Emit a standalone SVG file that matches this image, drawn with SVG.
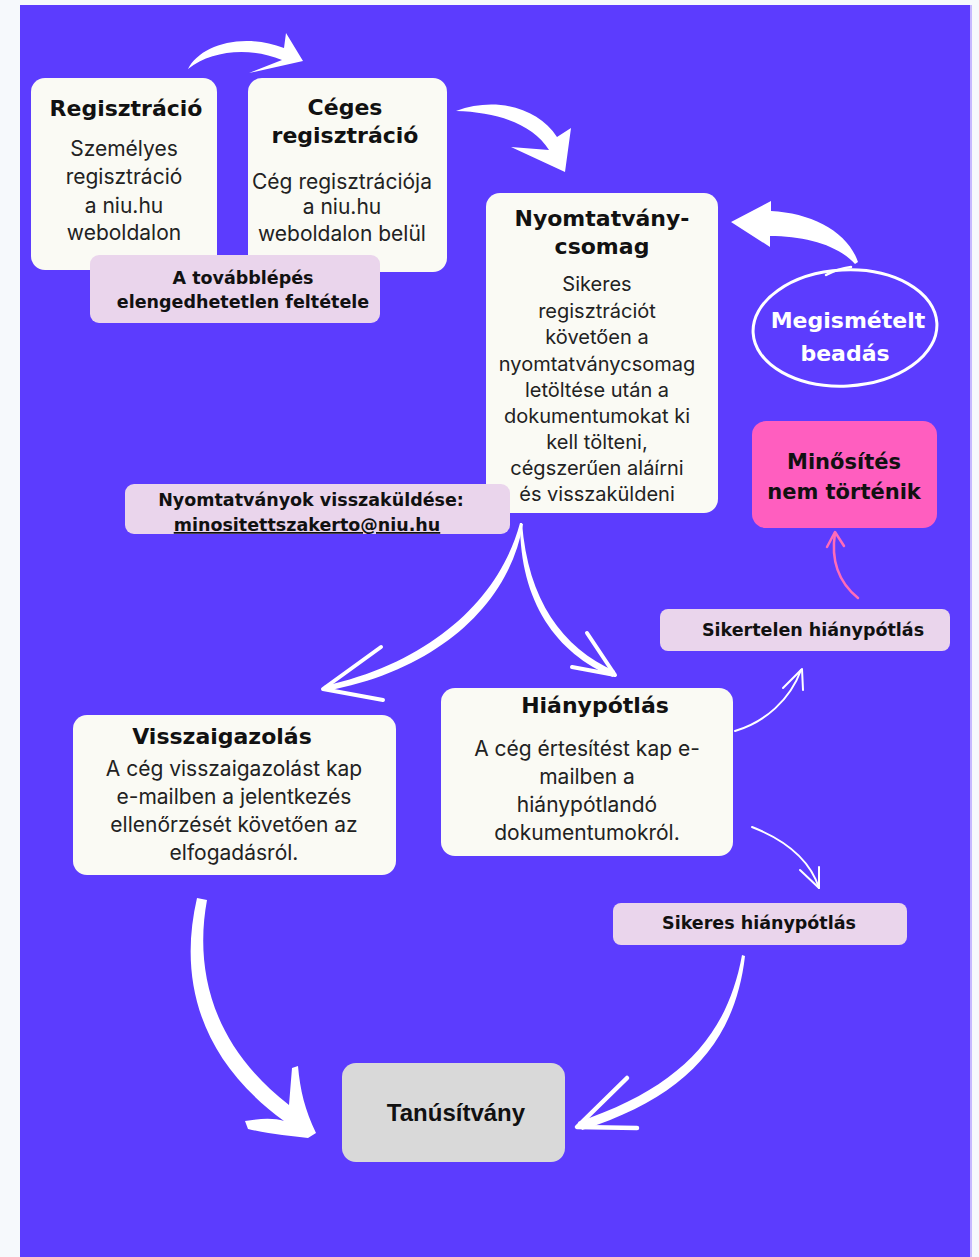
<svg xmlns="http://www.w3.org/2000/svg" width="979" height="1257" viewBox="0 0 979 1257">
<style>
.box{fill:#fafaf4}
.lbl{fill:#ead5ec}
.t{font-family:"DejaVu Sans",sans-serif;font-weight:bold;font-size:22px;fill:#111;text-anchor:middle}
.b{font-family:Inter,"Open Sans",sans-serif;font-size:21px;fill:#222;text-anchor:middle}
.l{font-family:"DejaVu Sans",sans-serif;font-weight:bold;font-size:17.5px;fill:#111;text-anchor:middle}
.wfill{fill:#fff}
.wline{fill:none;stroke:#fff;stroke-linecap:round;stroke-linejoin:round}
</style>
<rect x="0" y="0" width="979" height="1257" fill="#f6f9fc"/>
<rect x="20" y="5" width="952" height="1252" fill="#c6b8ff"/>
<rect x="20" y="5" width="950" height="1252" fill="#5c3cfe"/>

<g id="connectors">
  <path class="wfill" d="M188,69 C200,45 242,32 284,48 L286,33 L303,61 L249,73 L282,60 C250,47 212,50 188,69 Z"/>
  <path class="wfill" d="M456,111 C496,96 538,108 557,137 L571,128 L565,172 L511,147 L549,150 C533,124 497,112 456,111 Z"/>
  <path class="wfill" d="M858,262 C848,232 812,213 771,211 L771,201 L731,222 L770,247 L770,236 C805,236 838,245 855,264 Z"/>
  <path class="wfill" d="M520,523 L523,524 C510,602 440,670 326,691 L324,686 C432,662 500,598 520,523 Z"/>
  <polyline class="wline" stroke-width="4" points="381,647 323,689 383,700"/>
  <path class="wfill" d="M520,523 L522,523 C528,600 562,648 615,671 L613,677 C556,653 520,602 520,523 Z"/>
  <polyline class="wline" stroke-width="4" points="587,633 615,675 572,667"/>
  <path class="wline" stroke-width="2" d="M735,731 C765,722 790,700 801,670"/>
  <polyline class="wline" stroke-width="2" points="783,688 802,669 803,690"/>
  <path class="wline" stroke-width="2" d="M752,827 C785,840 810,860 819,888"/>
  <polyline class="wline" stroke-width="2" points="800,870 819,888 819,867"/>
  <path fill="none" stroke="#ff6cb8" stroke-width="2.5" stroke-linecap="round" d="M858,598 C842,585 830,565 835,533"/>
  <polyline fill="none" stroke="#ff6cb8" stroke-width="2.5" stroke-linecap="round" stroke-linejoin="round" points="827,547 835,532 844,546"/>
  <path class="wfill" d="M197,898 L207,900 C196,960 205,1040 289,1105 L292,1068 L298,1066 C300,1090 305,1110 316,1133 L308,1138 C290,1136 270,1134 248,1129 L245,1121 C262,1118 275,1118 284,1121 C200,1060 178,980 197,898 Z"/>
  <path class="wfill" d="M742,955 L745,956 C735,1042 686,1097 582,1130 L578,1122 C678,1088 727,1038 742,955 Z"/>
  <polyline class="wline" stroke-width="4.5" points="627,1078 577,1127 637,1128"/>
</g>

<g id="regisztracio">
  <rect class="box" x="31" y="78" width="186" height="192" rx="14"/>
  <text class="t" x="126" y="116">Regisztráció</text>
  <text class="b" x="124" y="156">Személyes</text>
  <text class="b" x="124" y="184">regisztráció</text>
  <text class="b" x="124" y="213">a niu.hu</text>
  <text class="b" x="124" y="240">weboldalon</text>
</g>

<g id="ceges">
  <rect class="box" x="248" y="78" width="199" height="194" rx="14"/>
  <text class="t" x="345" y="115">Céges</text>
  <text class="t" x="345" y="143">regisztráció</text>
  <text class="b" x="342" y="189">Cég regisztrációja</text>
  <text class="b" x="342" y="214">a niu.hu</text>
  <text class="b" x="342" y="241">weboldalon belül</text>
</g>

<g id="feltetel">
  <rect class="lbl" x="90" y="255" width="290" height="68" rx="9"/>
  <text class="l" x="243" y="284">A továbblépés</text>
  <text class="l" x="243" y="308">elengedhetetlen feltétele</text>
</g>

<g id="nyomtatvanycsomag">
  <rect class="box" x="486" y="193" width="232" height="320" rx="14"/>
  <text class="t" x="602" y="226">Nyomtatvány-</text>
  <text class="t" x="602" y="254">csomag</text>
  <g class="b" style="font-size:20px">
    <text x="597" y="291">Sikeres</text>
    <text x="597" y="318">regisztrációt</text>
    <text x="597" y="344">követően a</text>
    <text x="597" y="371">nyomtatványcsomag</text>
    <text x="597" y="397">letöltése után a</text>
    <text x="597" y="423">dokumentumokat ki</text>
    <text x="597" y="449">kell tölteni,</text>
    <text x="597" y="475">cégszerűen aláírni</text>
    <text x="597" y="501">és visszaküldeni</text>
  </g>
</g>

<g id="visszakuldes">
  <rect class="lbl" x="125" y="484" width="385" height="50" rx="9"/>
  <text class="l" x="311" y="506">Nyomtatványok visszaküldése:</text>
  <text class="l" x="307" y="531" text-decoration="underline">minositettszakerto@niu.hu</text>
</g>

<g id="megismetelt">
  <ellipse cx="845" cy="328" rx="92" ry="58" fill="none" stroke="#fff" stroke-width="3" transform="rotate(-3 845 328)"/>
  <path d="M826,275 C835,270 843,268 851,267" fill="none" stroke="#fff" stroke-width="2.5" stroke-linecap="round"/>
  <text class="t" x="848" y="328" style="fill:#fff">Megismételt</text>
  <text class="t" x="845" y="361" style="fill:#fff">beadás</text>
</g>

<g id="minosites">
  <rect x="752" y="421" width="185" height="107" rx="14" fill="#ff5ebf"/>
  <text class="t" x="844" y="469" style="font-size:21px">Minősítés</text>
  <text class="t" x="844" y="499" style="font-size:21px">nem történik</text>
</g>

<g id="sikertelen">
  <rect class="lbl" x="660" y="609" width="290" height="42" rx="8"/>
  <text class="l" x="813" y="636">Sikertelen hiánypótlás</text>
</g>

<g id="hianypotlas">
  <rect class="box" x="441" y="688" width="292" height="168" rx="14"/>
  <text class="t" x="595" y="713">Hiánypótlás</text>
  <text class="b" x="587" y="756">A cég értesítést kap e-</text>
  <text class="b" x="587" y="784">mailben a</text>
  <text class="b" x="587" y="812">hiánypótlandó</text>
  <text class="b" x="587" y="840">dokumentumokról.</text>
</g>

<g id="sikeres">
  <rect class="lbl" x="613" y="903" width="294" height="42" rx="8"/>
  <text class="l" x="759" y="929">Sikeres hiánypótlás</text>
</g>

<g id="visszaigazolas">
  <rect class="box" x="73" y="715" width="323" height="160" rx="14"/>
  <text class="t" x="222" y="744">Visszaigazolás</text>
  <text class="b" x="234" y="776">A cég visszaigazolást kap</text>
  <text class="b" x="234" y="804">e-mailben a jelentkezés</text>
  <text class="b" x="234" y="832">ellenőrzését követően az</text>
  <text class="b" x="234" y="860">elfogadásról.</text>
</g>

<g id="tanusitvany">
  <rect x="342" y="1063" width="223" height="99" rx="14" fill="#d9d9d9"/>
  <text x="456" y="1121" style="font-family:'Liberation Sans',Arial,sans-serif;font-weight:bold;font-size:24px;fill:#111;text-anchor:middle">Tanúsítvány</text>
</g>
</svg>
